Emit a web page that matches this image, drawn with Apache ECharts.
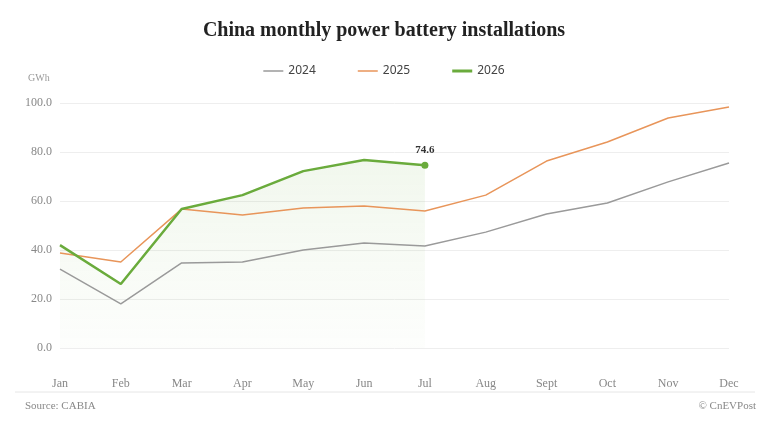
<!DOCTYPE html>
<html><head><meta charset="utf-8">
<script src="https://cdn.jsdelivr.net/npm/echarts@6/dist/echarts.min.js"></script>
<style>body{margin:0;background:#fff}#c{width:768px;height:432px}</style>
</head><body><div id="c"></div>
<script>
const categories = ['Jan','Feb','Mar','Apr','May','Jun','Jul','Aug','Sept','Oct','Nov','Dec'];
const s2024 = [32.2,18.0,34.7,35.1,40.0,42.9,41.6,47.3,54.7,59.2,67.8,75.5];
const s2025 = [38.8,35.1,56.7,54.3,57.1,58.0,55.9,62.4,76.3,84.1,93.9,98.4];
const s2026 = [42.0,26.1,56.7,62.4,72.2,76.7,74.6];
const F = '"Liberation Serif", "DejaVu Serif", serif';
const chart = echarts.init(document.getElementById('c'));
const last = s2026.length - 1;
const thin = 'path://M0,0H20V1.5H0Z', thick = 'path://M0,0H20V3H0Z';
chart.setOption({
  animation:false,
  textStyle:{fontFamily:F},
  title:{text:'China monthly power battery installations',left:'center',top:16,
    textStyle:{fontFamily:F,fontSize:20,fontWeight:'bold',color:'#222'}},
  legend:{top:60,left:'center',itemWidth:20,itemHeight:3,itemGap:42,
    textStyle:{fontFamily:'Noto Sans',fontSize:12,color:'#444'},
    data:[{name:'2024',icon:thin},{name:'2025',icon:thin},{name:'2026',icon:thick}]},
  graphic:[
    {type:'text',left:28,top:73,style:{text:'GWh',fontFamily:F,fontSize:10,fill:'#999'}},
    {type:'line',shape:{x1:15,y1:392,x2:755,y2:392},style:{stroke:'#e6e6e6',lineWidth:1}},
    {type:'text',left:25,top:401,style:{text:'Source: CABIA',fontFamily:F,fontSize:11,fill:'#888'}},
    {type:'text',right:12,top:401,style:{text:'© CnEVPost',fontFamily:F,fontSize:11,fill:'#888'}}
  ],
  grid:{left:60,right:39,top:103,bottom:84,containLabel:false},
  xAxis:{type:'category',data:categories,boundaryGap:false,offset:22,
    axisLine:{show:false},axisTick:{show:false},
    axisLabel:{color:'#888',fontSize:12,fontFamily:F,interval:0}},
  yAxis:{type:'value',min:0,max:100,interval:20,
    axisLabel:{color:'#888',fontSize:12,fontFamily:F,margin:8,formatter:v=>v.toFixed(1)},
    splitLine:{lineStyle:{color:'#eeeeee'}}},
  series:[
    {name:'2024',type:'line',data:s2024,symbol:'none',lineStyle:{color:'#9a9a9a',width:1.5},itemStyle:{color:'#9a9a9a'}},
    {name:'2025',type:'line',data:s2025,symbol:'none',lineStyle:{color:'#e8955a',width:1.5},itemStyle:{color:'#e8955a'}},
    {name:'2026',type:'line',data:s2026,symbol:'circle',symbolSize:(v,p)=>p.dataIndex===last?7:0,
      showAllSymbol:true,
      lineStyle:{color:'#6aab3c',width:2.5},itemStyle:{color:'#6aab3c'},
      areaStyle:{color:{type:'linear',x:0,y:0,x2:0,y2:1,colorStops:[{offset:0,color:'rgba(106,171,60,0.13)'},{offset:1,color:'rgba(106,171,60,0.02)'}]}},
      label:{show:true,position:'top',distance:6,fontFamily:F,fontWeight:'bold',fontSize:11,color:'#333',
        formatter:p=>p.dataIndex===last?p.value.toFixed(1):''}}
  ]
});
</script></body></html>
